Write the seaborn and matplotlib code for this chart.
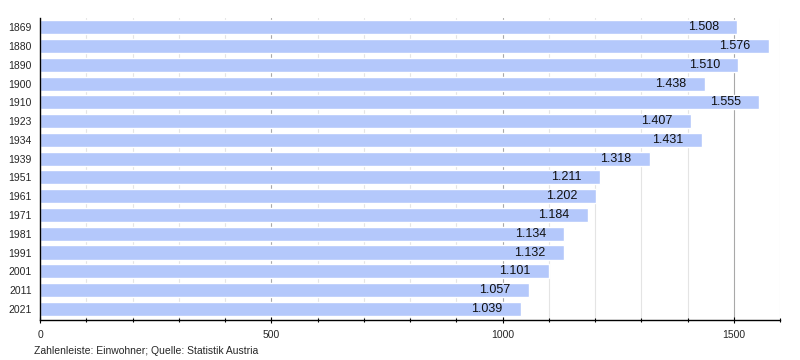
import pandas as pd
import numpy as np
import matplotlib.pyplot as plt
import seaborn as sns
from matplotlib.ticker import MultipleLocator

years = ["1869", "1880", "1890", "1900", "1910", "1923", "1934", "1939",
         "1951", "1961", "1971", "1981", "1991", "2001", "2011", "2021"]
population = [1508, 1576, 1510, 1438, 1555, 1407, 1431, 1318,
              1211, 1202, 1184, 1134, 1132, 1101, 1057, 1039]

df = pd.DataFrame({"year": years, "pop": population})

sns.set_theme(style="white")
plt.rcParams["font.family"] = ["Liberation Sans", "DejaVu Sans"]

fig = plt.figure(figsize=(8, 3.6), dpi=100)
ax = fig.add_axes([0.05, 0.111, 0.925, 0.839])

# grid: light every 100, darker every 500
for x in range(100, 1700, 100):
    col = "#a8a8a8" if x % 500 == 0 else "#e4e4e4"
    ax.axvline(x, color=col, lw=0.8, zorder=0)

sns.barplot(data=df, x="pop", y="year", orient="h", color="#b4c8fb",
            saturation=1, width=0.75, ax=ax, zorder=2)

for i, v in enumerate(population):
    ax.text(v - 40, i, f"{v/1000:.3f}", ha="right", va="center",
            fontsize=9, color="#111111", zorder=3)

ax.set_xlim(0, 1600)
ax.set_ylim(15.6, -0.5)
ax.xaxis.set_major_locator(MultipleLocator(500))
ax.xaxis.set_minor_locator(MultipleLocator(100))
ax.tick_params(axis="x", which="major", length=4, width=0.8, labelsize=7.5,
               color="black", bottom=True, direction="inout", pad=5)
ax.tick_params(axis="x", which="minor", length=3, width=0.8,
               color="black", bottom=True, direction="inout")
ax.tick_params(axis="y", length=0, labelsize=7.5, pad=6)
ax.set_xlabel("")
ax.set_ylabel("")

for s in ["top", "right"]:
    ax.spines[s].set_visible(False)
for s in ["left", "bottom"]:
    ax.spines[s].set_color("black")
    ax.spines[s].set_linewidth(1.0)

fig.text(0.043, 0.012, "Zahlenleiste: Einwohner; Quelle: Statistik Austria",
         fontsize=7.5, ha="left", va="bottom")

fig.savefig("out.png", dpi=100)
